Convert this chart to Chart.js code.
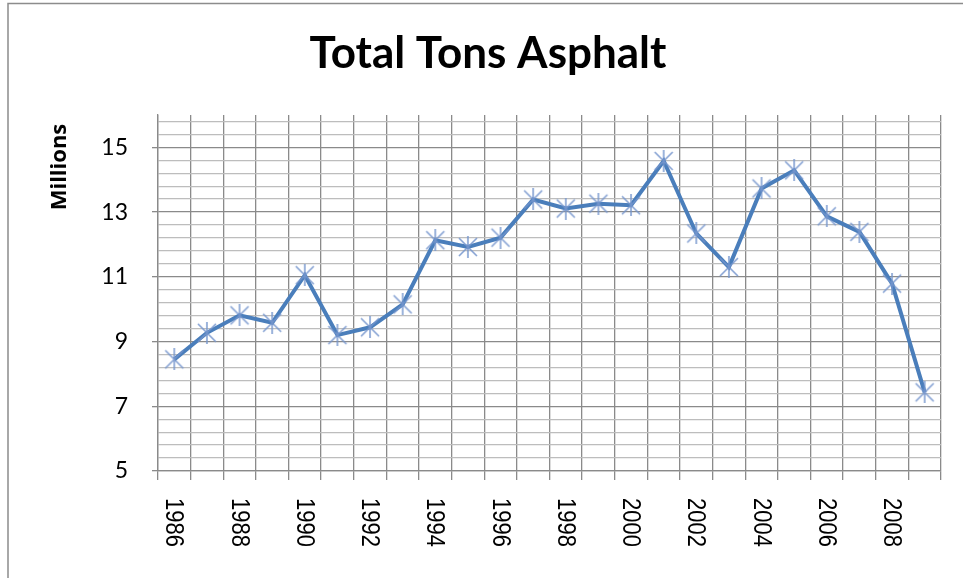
<!DOCTYPE html>
<html>
<head>
<meta charset="utf-8">
<title>Total Tons Asphalt</title>
<script src="https://cdn.jsdelivr.net/npm/chart.js@4.4.1/dist/chart.umd.min.js"></script>
<style>
  html, body { margin: 0; padding: 0; background: #fff; }
  #wrap { width: 963px; height: 578px; }
</style>
</head>
<body>
<div id="wrap"><canvas id="chart" width="963" height="578"></canvas></div>
<script>
// values, in millions of tons
const years = ['1986', '1987', '1988', '1989', '1990', '1991', '1992', '1993', '1994', '1995', '1996', '1997',
               '1998', '1999', '2000', '2001', '2002', '2003', '2004', '2005', '2006', '2007', '2008', '2009'];
const tons = [8.45, 9.27, 9.81, 9.58, 11.05, 9.2, 9.44, 10.15, 12.13, 11.92, 12.21, 13.39,
              13.11, 13.26, 13.21, 14.58, 12.34, 11.3, 13.73, 14.29, 12.87, 12.39, 10.79, 7.43];
const xTickLabels = ['1986', '1988', '1990', '1992', '1994', '1996', '1998', '2000', '2002', '2004', '2006', '2008'];
const yTickLabels = [5, 7, 9, 11, 13, 15];
const yMin = 5, yMax = 16, yMinorStep = 0.4;

const MAJOR = '#8a8a8a';
const MINOR = '#bdbdbd';

function isMajor(v) {
  return yTickLabels.includes(Math.round(v * 10) / 10);
}

// Excel style "star" marker: an X with a vertical stroke
function starMarker(size) {
  const c = document.createElement('canvas');
  c.width = size; c.height = size;
  const g = c.getContext('2d');
  g.strokeStyle = 'rgba(118, 150, 205, 0.9)';
  g.lineWidth = 1.6;
  const m = size / 2;
  g.beginPath();
  g.moveTo(2, 2); g.lineTo(size - 2, size - 2);
  g.moveTo(size - 2, 2); g.lineTo(2, size - 2);
  g.moveTo(m, 0); g.lineTo(m, size);
  g.stroke();
  return c;
}

const decor = {
  id: 'decor',
  beforeDraw(chart) {
    const ctx = chart.ctx;
    ctx.save();
    ctx.strokeStyle = '#8c8c8c';
    ctx.lineWidth = 1.5;
    ctx.beginPath();
    ctx.moveTo(8, 578); ctx.lineTo(8, 3.5); ctx.lineTo(963, 3.5);
    ctx.stroke();
    ctx.restore();
  },
  afterDraw(chart) {
    const ctx = chart.ctx;
    const x = chart.scales.x;
    ctx.save();
    ctx.fillStyle = '#000';

    // title
    ctx.font = 'bold 44px Lato';
    ctx.textAlign = 'center';
    ctx.textBaseline = 'alphabetic';
    ctx.fillText('Total Tons Asphalt', 488, 68);

    // year labels, turned clockwise
    ctx.font = '22px "Liberation Sans"';
    ctx.textAlign = 'left';
    ctx.textBaseline = 'middle';
    xTickLabels.forEach(lbl => {
      const px = x.getPixelForValue(years.indexOf(lbl));
      ctx.save();
      ctx.translate(px - 1, 498);
      ctx.rotate(Math.PI / 2);
      ctx.scale(1, 1.16);
      ctx.fillText(lbl, 0, 0);
      ctx.restore();
    });

    // axis title
    ctx.font = 'bold 22px "Open Sans"';
    ctx.textAlign = 'center';
    ctx.translate(60, 167);
    ctx.rotate(-Math.PI / 2);
    ctx.fillText('Millions', 0, 0);
    ctx.restore();
  }
};

new Chart(document.getElementById('chart'), {
  type: 'line',
  data: {
    labels: years,
    datasets: [{
      data: tons,
      borderColor: '#4a7ebb',
      borderWidth: 4,
      tension: 0,
      pointStyle: starMarker(22),
      pointRadius: 11,
      pointHoverRadius: 11
    }]
  },
  options: {
    responsive: false,
    animation: false,
    layout: { padding: { top: 115, right: 22, left: 0, bottom: 0 } },
    plugins: { legend: { display: false }, title: { display: false }, tooltip: { enabled: false } },
    scales: {
      x: {
        type: 'category',
        offset: true,
        grid: { offset: true, color: MAJOR, tickColor: MAJOR, tickLength: 9, lineWidth: 1.3 },
        border: { color: MAJOR, width: 1.3 },
        ticks: { display: false },
        afterFit(scale) { scale.height = 107; }
      },
      y: {
        min: yMin,
        max: yMax,
        afterBuildTicks(scale) {
          const t = [];
          for (let v = yMin; v < yMax - 0.01; v += yMinorStep) t.push({ value: Math.round(v * 10) / 10 });
          scale.ticks = t;
        },
        afterFit(scale) { scale.width = 158; },
        border: { color: MAJOR, width: 1.3 },
        grid: {
          color: c => isMajor(c.tick.value) ? MAJOR : MINOR,
          tickColor: c => isMajor(c.tick.value) ? MAJOR : 'rgba(0,0,0,0)',
          tickLength: 6,
          lineWidth: 1.3
        },
        ticks: {
          autoSkip: false,
          padding: 24,
          color: '#000',
          font: { family: 'Lato', size: 23 },
          callback: v => isMajor(v) ? String(Math.round(v)) : ''
        }
      }
    }
  },
  plugins: [decor]
});
</script>
</body>
</html>
